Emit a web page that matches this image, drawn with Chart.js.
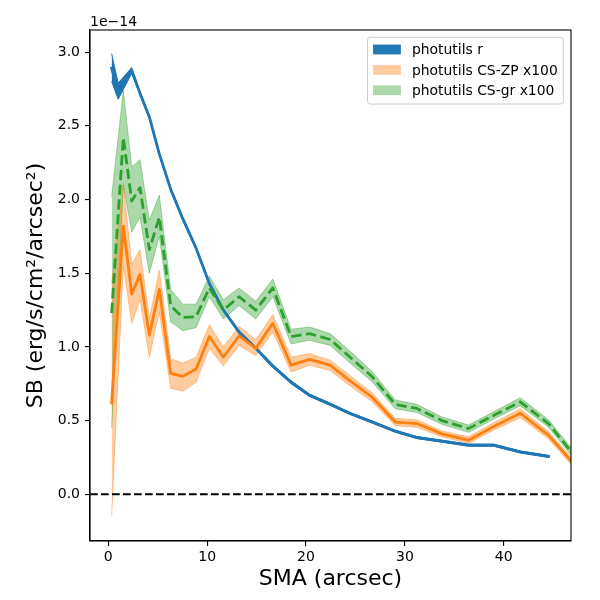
<!DOCTYPE html>
<html><head><meta charset="utf-8">
<script src="https://cdn.jsdelivr.net/npm/chart.js@4.4.1/dist/chart.umd.min.js"></script>
<style>html,body{margin:0;padding:0;background:#fff}canvas{display:block}</style>
</head><body>
<canvas id="c" width="600" height="600"></canvas>
<script>
// ---- data (SB in units of 1e-14) ----
const smaR = [0.34, 1.0, 2.37, 3.21, 4.15, 5.16, 6.31, 7.53, 8.88, 10.22, 11.64, 13.23, 14.92, 16.64, 18.49, 20.35, 22.44, 24.46, 26.66, 29.02, 31.21, 33.74, 36.44, 38.97, 41.67, 44.53];
const sbR   = [2.89, 2.73, 2.875, 2.72, 2.56, 2.31, 2.07, 1.87, 1.67, 1.43, 1.25, 1.10, 0.99, 0.87, 0.76, 0.672, 0.611, 0.548, 0.491, 0.428, 0.385, 0.36, 0.333, 0.333, 0.287, 0.257];
const sbRLo = [2.80, 2.68, 2.855, 2.71, 2.55, 2.30, 2.06, 1.86, 1.66, 1.42, 1.24, 1.09, 0.98, 0.86, 0.75, 0.664, 0.603, 0.541, 0.484, 0.421, 0.378, 0.353, 0.326, 0.326, 0.28, 0.25];
const sbRHi = [2.99, 2.79, 2.895, 2.73, 2.57, 2.32, 2.08, 1.88, 1.68, 1.44, 1.26, 1.11, 1.00, 0.88, 0.77, 0.68, 0.619, 0.555, 0.498, 0.435, 0.392, 0.367, 0.34, 0.34, 0.294, 0.264];

const smaCS = [0.34, 1.52, 2.37, 3.21, 4.15, 5.16, 6.31, 7.53, 8.88, 10.22, 11.64, 13.23, 14.92, 16.64, 18.49, 20.35, 22.44, 24.46, 26.66, 29.02, 31.21, 33.74, 36.44, 38.97, 41.67, 44.53, 47.3];
const sbZP   = [0.62, 1.82, 1.36, 1.49, 1.08, 1.39, 0.82, 0.80, 0.85, 1.07, 0.93, 1.075, 0.99, 1.16, 0.876, 0.915, 0.876, 0.77, 0.66, 0.49, 0.48, 0.41, 0.367, 0.46, 0.55, 0.40, 0.19];
const sbZPLo = [-0.15, 1.55, 1.16, 1.32, 0.93, 1.24, 0.72, 0.70, 0.76, 0.99, 0.87, 1.01, 0.94, 1.10, 0.83, 0.875, 0.84, 0.735, 0.63, 0.465, 0.455, 0.39, 0.345, 0.435, 0.52, 0.375, 0.165];
const sbZPHi = [1.43, 2.11, 1.56, 1.66, 1.19, 1.52, 0.92, 0.89, 0.93, 1.15, 1.00, 1.14, 1.05, 1.22, 0.93, 0.955, 0.91, 0.805, 0.69, 0.515, 0.505, 0.43, 0.39, 0.485, 0.58, 0.425, 0.215];

const sbGR   = [1.23, 2.42, 1.99, 2.08, 1.66, 1.88, 1.28, 1.20, 1.205, 1.40, 1.25, 1.34, 1.25, 1.40, 1.07, 1.09, 1.05, 0.93, 0.80, 0.61, 0.582, 0.50, 0.446, 0.535, 0.627, 0.48, 0.25];
const sbGRLo = [0.45, 2.10, 1.78, 1.88, 1.50, 1.75, 1.17, 1.11, 1.13, 1.34, 1.19, 1.28, 1.19, 1.34, 1.02, 1.045, 1.01, 0.89, 0.765, 0.58, 0.555, 0.475, 0.42, 0.51, 0.60, 0.455, 0.225];
const sbGRHi = [2.02, 2.74, 2.22, 2.27, 1.86, 2.03, 1.39, 1.29, 1.29, 1.48, 1.32, 1.40, 1.31, 1.46, 1.12, 1.135, 1.09, 0.97, 0.835, 0.64, 0.61, 0.525, 0.47, 0.56, 0.655, 0.505, 0.275];

const xTicks = [0, 10, 20, 30, 40];
const yTicks = [0, 0.5, 1.0, 1.5, 2.0, 2.5, 3.0];
const xRange = [-1.85, 46.8];
const yRange = [-0.317, 3.15];
const refLineY = 0;
const legendLabels = ['photutils r', 'photutils CS-ZP x100', 'photutils CS-gr x100'];
const xTitle = 'SMA (arcsec)';
const yTitle = 'SB (erg/s/cm²/arcsec²)';
const offsetText = '1e\u221214';

// ---- styles ----
const FONT = "'DejaVu Sans', sans-serif";
const cBlue = '#1f77b4', cOrange = '#ff7f0e', cGreen = '#2ca02c';
const bOrange = 'rgba(255,127,14,0.4)', bGreen = 'rgba(44,160,44,0.4)';
const legendColors = [cBlue, bOrange, bGreen];

function pts(xs, ys) { return xs.map((x, i) => ({x: x, y: ys[i]})); }
function band(xs, lo, hi, color) {
  return [
    {data: pts(xs, lo), borderColor: color, borderWidth: 1, pointRadius: 0, fill: false, order: 10},
    {data: pts(xs, hi), borderColor: color, borderWidth: 1, backgroundColor: color, pointRadius: 0, fill: '-1', order: 10}
  ];
}
function line(xs, ys, color, dash, ord) {
  return {data: pts(xs, ys), borderColor: color, borderWidth: 2.8, borderDash: dash, pointRadius: 0,
          fill: false, order: ord, borderJoinStyle: 'round', borderCapStyle: dash.length ? 'butt' : 'square'};
}

const datasets = [
  ...band(smaR, sbRLo, sbRHi, cBlue),
  ...band(smaCS, sbZPLo, sbZPHi, bOrange),
  ...band(smaCS, sbGRLo, sbGRHi, bGreen),
  line(smaR, sbR, cBlue, [], 3),
  line(smaCS, sbZP, cOrange, [], 2),
  line(smaCS, sbGR, cGreen, [10.3, 4.5], 1)
];

const decor = {
  id: 'decor',
  afterDatasetsDraw(chart) {
    const {ctx, chartArea: a, scales} = chart;
    const y0 = scales.y.getPixelForValue(refLineY);
    ctx.save();
    ctx.beginPath(); ctx.rect(a.left, a.top, a.right - a.left, a.bottom - a.top); ctx.clip();
    ctx.strokeStyle = '#000'; ctx.lineWidth = 2.1; ctx.setLineDash([7.7, 3.3]);
    ctx.beginPath(); ctx.moveTo(a.left, y0); ctx.lineTo(a.right, y0); ctx.stroke();
    ctx.restore();
  },
  afterDraw(chart) {
    const {ctx, chartArea: a} = chart;
    ctx.save();
    // frame
    ctx.strokeStyle = '#000'; ctx.lineWidth = 1.1; ctx.setLineDash([]);
    ctx.strokeRect(a.left, a.top, a.right - a.left, a.bottom - a.top);
    // offset text
    ctx.fillStyle = '#000'; ctx.font = '14px ' + FONT; ctx.textAlign = 'left'; ctx.textBaseline = 'alphabetic';
    ctx.fillText(offsetText, a.left, 26);
    // legend
    const em = 13.9;
    ctx.font = em + 'px ' + FONT;
    const tw = Math.max(...legendLabels.map(t => ctx.measureText(t).width));
    const w = em * (0.4 + 2.0 + 0.8 + 0.4) + tw;
    const h = 66.7;
    const bx = a.right - 7.7 - w, by = a.top + 7.3;
    ctx.beginPath();
    ctx.roundRect(bx, by, w, h, 2.8);
    ctx.fillStyle = 'rgba(255,255,255,0.8)'; ctx.fill();
    ctx.strokeStyle = '#cccccc'; ctx.lineWidth = 1; ctx.stroke();
    legendLabels.forEach((t, i) => {
      const cy = by + 12.2 + i * 20.4;
      const hx = bx + 0.4 * em;
      ctx.fillStyle = '#fff'; ctx.fillRect(hx, cy - 4.9, 2 * em, 9.8);
      ctx.fillStyle = legendColors[i]; ctx.fillRect(hx, cy - 4.9, 2 * em, 9.8);
      ctx.fillStyle = '#000'; ctx.textBaseline = 'middle';
      ctx.fillText(t, hx + 2.8 * em, cy + 1);
    });
    ctx.restore();
  }
};

new Chart(document.getElementById('c'), {
  type: 'line',
  data: {datasets: datasets},
  options: {
    responsive: false, animation: false, devicePixelRatio: 1,
    layout: {padding: {left: 19, top: 30, right: 29, bottom: 4}},
    plugins: {legend: {display: false}, tooltip: {enabled: false}, filler: {drawTime: 'beforeDatasetsDraw'}},
    elements: {line: {tension: 0}},
    scales: {
      x: {
        type: 'linear', min: xRange[0], max: xRange[1],
        afterBuildTicks: ax => { ax.ticks = xTicks.map(v => ({value: v})); },
        afterFit: ax => { ax.height = 55; },
        ticks: {color: '#000', font: {family: FONT, size: 14}, padding: 3, maxRotation: 0, callback: v => String(v)},
        grid: {drawOnChartArea: false, drawTicks: true, tickLength: 5, color: '#000', lineWidth: 1.1},
        border: {display: true, color: '#000', width: 1.1},
        title: {display: true, text: xTitle, color: '#000', font: {family: FONT, size: 22}, padding: {top: 0, bottom: 4}}
      },
      y: {
        type: 'linear', min: yRange[0], max: yRange[1],
        afterBuildTicks: ax => { ax.ticks = yTicks.map(v => ({value: v})); },
        afterFit: ax => { ax.width = 71; },
        ticks: {color: '#000', font: {family: FONT, size: 14}, padding: 5, callback: v => Number(v).toFixed(1)},
        grid: {drawOnChartArea: false, drawTicks: true, tickLength: 5, color: '#000', lineWidth: 1.1},
        border: {display: true, color: '#000', width: 1.1},
        title: {display: true, text: yTitle, color: '#000', font: {family: FONT, size: 22}, padding: {top: 4, bottom: 0}}
      }
    }
  },
  plugins: [decor]
});
</script>
</body></html>
